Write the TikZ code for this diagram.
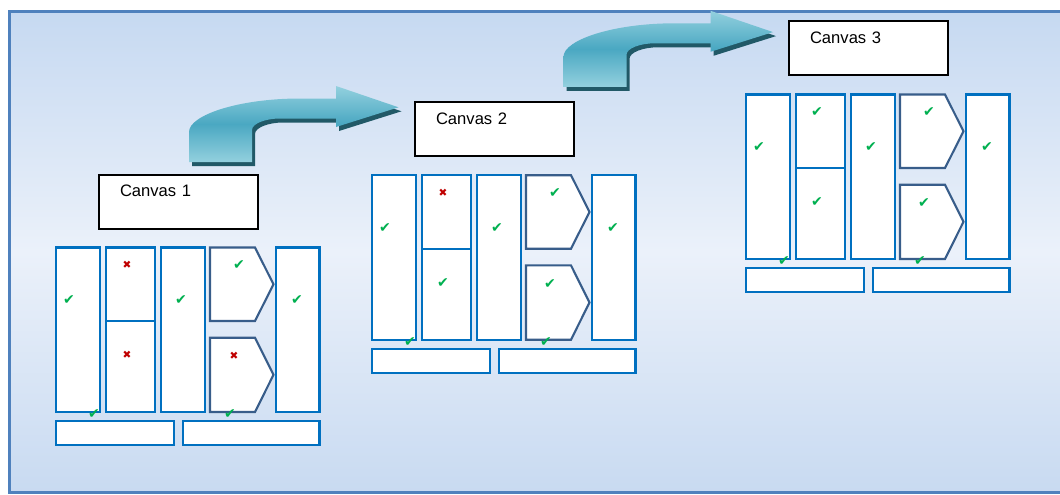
\documentclass[tikz,border=0pt]{standalone}
\usepackage{fontspec}
\setmainfont{Liberation Sans}
\newfontfamily\symfont{DejaVu Sans}
\definecolor{bgtop}{HTML}{C6D9F1}
\definecolor{bgmid}{HTML}{EBF1FA}
\definecolor{bgbot}{HTML}{C8DAF1}
\definecolor{framec}{HTML}{4F81BD}
\definecolor{boxblue}{HTML}{0070C0}
\definecolor{pentc}{HTML}{385D8A}
\definecolor{okg}{HTML}{00B050}
\definecolor{nored}{HTML}{C00000}
\definecolor{arrlight}{HTML}{93D0DE}
\definecolor{arrmid}{HTML}{4AA8C2}
\definecolor{arrshadow}{HTML}{215967}
\newcommand\yes{\textcolor{okg}{✔}}
\newcommand\nope{\textcolor{nored}{\fontsize{10.5}{10.5}\selectfont ✖}}
\tikzset{
  colbox/.style={draw=boxblue, line width=2.2pt, fill=white, anchor=north west, inner sep=0pt, outer sep=0pt},
  pentbox/.style={draw=pentc, line width=2.1pt, fill=white, line join=miter},
  titlebox/.style={draw=black, line width=2pt, fill=white, anchor=north west,
    inner sep=0pt, outer sep=0pt, inner xsep=21pt, text width=116.5pt, align=left,
    text height=22.3pt, text depth=31.7pt, font=\fontsize{16.6}{20}\selectfont},
  markn/.style={inner sep=0pt, font=\symfont\fontsize{14}{14}\selectfont},
}
\newcommand\cgroup[7]{%
\begin{scope}[shift={(#2,#3)}, name prefix=#1-]
  \node[titlebox] (title) at (99,174.5) {#4};
  \node[colbox, minimum width=44pt, minimum height=164.5pt] (col1) at (56,247.5) {};
  \node[colbox, minimum width=49pt, minimum height=73.5pt] (col2t) at (106,247.5) {};
  \node[colbox, minimum width=49pt, minimum height=91pt] (col2b) at (106,321) {};
  \node[colbox, minimum width=44pt, minimum height=164.5pt] (col3) at (161,247.5) {};
  \draw[pentbox] (210,247.5) -- (255,247.5) -- (273.5,284.3) -- (255,321) -- (210,321) -- cycle;
  \draw[pentbox] (210,337.7) -- (255,337.7) -- (273.5,374.8) -- (255,412) -- (210,412) -- cycle;
  \node[colbox, minimum width=43.5pt, minimum height=164.5pt] (col5) at (276,247.5) {};
  \node[colbox, minimum width=118pt, minimum height=24pt] (bar1) at (56,421) {};
  \node[colbox, minimum width=136.5pt, minimum height=24pt] (bar2) at (183,421) {};
  \node[markn] (m1) at (69,300) {\yes};
  \node[markn] (m2) at (127,265) {#5};
  \node[markn] (m3) at (127,355) {#6};
  \node[markn] (m4) at (181,300) {\yes};
  \node[markn] (m5) at (239,265) {\yes};
  \node[markn] (m6) at (234,356) {#7};
  \node[markn] (m7) at (297,300) {\yes};
  \node[markn] (m8) at (94,414) {\yes};
  \node[markn] (m9) at (230,414) {\yes};
\end{scope}}
\begin{document}
\begin{tikzpicture}[x=1pt,y=-1pt]
\useasboundingbox (0,0) rectangle (1060,495);
\clip (0,0) rectangle (1060,495);
\fill[white] (0,0) rectangle (1060,495);
\shade[top color=bgtop, bottom color=bgbot, middle color=bgmid] (9.5,11.3) rectangle (1090,492.5);
\draw[framec, line width=2.5pt] (9.5,11.3) rectangle (1090,492.5);
\foreach \dx/\dy in {0/0, 374.5/-75.2}{
  \begin{scope}[shift={(\dx,\dy)}]
    \fill[arrshadow, shift={(3,4)}] (189,162) -- (189,132) .. controls (189,115) and (239,98.5) .. (300,98.5) -- (336,98.5) -- (336,86) -- (398.5,107.3) -- (336,127) -- (336,118.5) -- (280,118.5) .. controls (266,118.5) and (252,123.4) .. (252,130) -- (252,162) -- cycle;
    \shade[top color=arrlight, bottom color=arrlight, middle color=arrmid] (189,162) -- (189,132) .. controls (189,115) and (239,98.5) .. (300,98.5) -- (336,98.5) -- (336,86) -- (398.5,107.3) -- (336,127) -- (336,118.5) -- (280,118.5) .. controls (266,118.5) and (252,123.4) .. (252,130) -- (252,162) -- cycle;
  \end{scope}
}
\cgroup{c1}{0}{0}{Canvas 1}{\nope}{\nope}{\nope}
\cgroup{c2}{316}{-72.3}{Canvas 2}{\nope}{\yes}{\yes}
\cgroup{c3}{690}{-153}{Canvas 3}{\yes}{\yes}{\yes}
\end{tikzpicture}
\end{document}
